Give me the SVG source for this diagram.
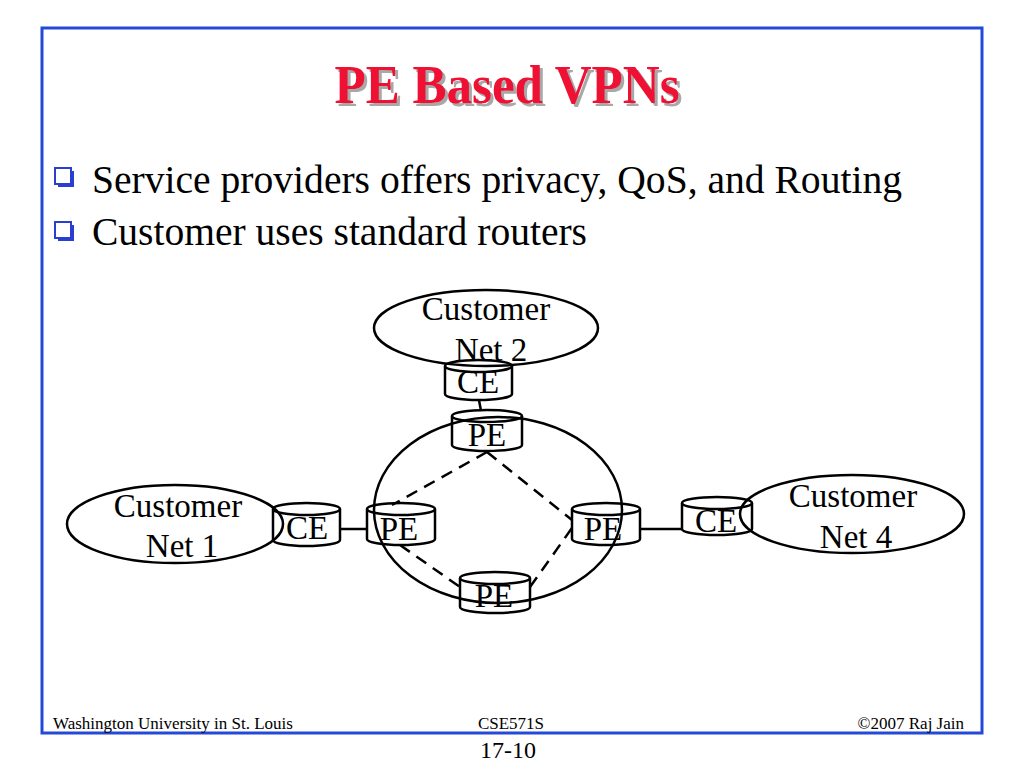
<svg xmlns="http://www.w3.org/2000/svg" width="1024" height="768" viewBox="0 0 1024 768">
<style>
.serif{font-family:"Liberation Serif","Times New Roman",serif;fill:#000}
.shape{fill:none;stroke:#000;stroke-width:2.5}
.lbl{font-family:"Liberation Serif","Times New Roman",serif;font-size:33px;text-anchor:middle;fill:#000}
.dash{fill:none;stroke:#000;stroke-width:2.5;stroke-dasharray:12 8}
.link{fill:none;stroke:#000;stroke-width:2.5}
.frame{fill:none;stroke:#2448d8;stroke-width:3}
.foot{font-family:"Liberation Serif","Times New Roman",serif;font-size:17px;fill:#000}
</style>
<rect width="1024" height="768" fill="#fff"/>
<rect class="frame" x="42" y="28" width="940" height="705"/>
<g id="title">
<text x="510" y="106" font-family="Liberation Serif, Times New Roman, serif" font-weight="bold" font-size="54" fill="#a8a8a8" text-anchor="middle" textLength="345" lengthAdjust="spacingAndGlyphs">PE Based VPNs</text>
<text x="507" y="103" font-family="Liberation Serif, Times New Roman, serif" font-weight="bold" font-size="54" fill="#ee1133" text-anchor="middle" textLength="345" lengthAdjust="spacingAndGlyphs">PE Based VPNs</text>
</g>
<g id="bullets">
<rect x="58" y="171" width="16" height="16" fill="#2a3fd0"/>
<rect x="55" y="168" width="16" height="16" fill="#fff" stroke="#2a3fd0" stroke-width="2"/>
<text class="serif" x="92" y="193" font-size="40" textLength="810" lengthAdjust="spacingAndGlyphs">Service providers offers privacy, QoS, and Routing</text>
<rect x="58" y="225" width="16" height="16" fill="#2a3fd0"/>
<rect x="55" y="222" width="16" height="16" fill="#fff" stroke="#2a3fd0" stroke-width="2"/>
<text class="serif" x="92" y="245" font-size="40" textLength="495" lengthAdjust="spacingAndGlyphs">Customer uses standard routers</text>
</g>
<g id="connectors">
<line class="link" x1="479" y1="400" x2="481" y2="411"/>
<line class="link" x1="340" y1="529" x2="367" y2="529"/>
<line class="link" x1="640" y1="529" x2="682" y2="529"/>
<line class="dash" x1="487" y1="452" x2="392" y2="505"/>
<line class="dash" x1="487" y1="452" x2="572" y2="520"/>
<line class="dash" x1="400" y1="545" x2="460" y2="587"/>
<line class="dash" x1="530" y1="587" x2="572" y2="528"/>
</g>
<g id="provider-net">
<ellipse class="shape" cx="498" cy="510" rx="124" ry="93"/>
</g>
<g id="customer-net-2">
<ellipse class="shape" cx="486" cy="328" rx="112" ry="38"/>
<text class="lbl" x="486" y="320">Customer</text>
<text class="lbl" x="491" y="361">Net 2</text>
</g>
<g id="customer-net-1">
<ellipse class="shape" cx="175" cy="524" rx="108" ry="39"/>
<text class="lbl" x="178" y="517">Customer</text>
<text class="lbl" x="182" y="557">Net 1</text>
</g>
<g id="customer-net-4">
<ellipse class="shape" cx="852" cy="514" rx="112" ry="39"/>
<text class="lbl" x="853" y="507">Customer</text>
<text class="lbl" x="856" y="548">Net 4</text>
</g>
<g id="ce-top">
<ellipse class="shape" cx="478.5" cy="366" rx="33.5" ry="6"/>
<path class="shape" d="M445 366 V394 A33.5 6 0 0 0 512 394 V366"/>
<text class="lbl" x="478" y="393">CE</text>
</g>
<g id="pe-top">
<ellipse class="shape" cx="487" cy="416" rx="35" ry="6"/>
<path class="shape" d="M452 416 V445 A35 6 0 0 0 522 445 V416"/>
<text class="lbl" x="487" y="446">PE</text>
</g>
<g id="ce-left">
<ellipse class="shape" cx="306.5" cy="509" rx="33.5" ry="6"/>
<path class="shape" d="M273 509 V540 A33.5 6 0 0 0 340 540 V509"/>
<text class="lbl" x="307" y="539">CE</text>
</g>
<g id="pe-left">
<ellipse class="shape" cx="401" cy="509" rx="34" ry="6"/>
<path class="shape" d="M367 509 V539 A34 6 0 0 0 435 539 V509"/>
<text class="lbl" x="399" y="540">PE</text>
</g>
<g id="pe-right">
<ellipse class="shape" cx="606" cy="509" rx="34" ry="6"/>
<path class="shape" d="M572 509 V539 A34 6 0 0 0 640 539 V509"/>
<text class="lbl" x="603" y="540">PE</text>
</g>
<g id="ce-right">
<ellipse class="shape" cx="717" cy="503" rx="35" ry="6"/>
<path class="shape" d="M682 503 V529 A35 6 0 0 0 752 529 V503"/>
<text class="lbl" x="716" y="532">CE</text>
</g>
<g id="pe-bottom">
<ellipse class="shape" cx="495" cy="578" rx="35" ry="6"/>
<path class="shape" d="M460 578 V607 A35 6 0 0 0 530 607 V578"/>
<text class="lbl" x="494" y="607">PE</text>
</g>
<g id="footer">
<text class="foot" x="53" y="729">Washington University in St. Louis</text>
<text class="foot" x="511" y="729" text-anchor="middle">CSE571S</text>
<text class="foot" x="964" y="729" text-anchor="end">©2007 Raj Jain</text>
<text class="serif" x="508" y="758" font-size="24" text-anchor="middle">17-10</text>
</g>
</svg>
